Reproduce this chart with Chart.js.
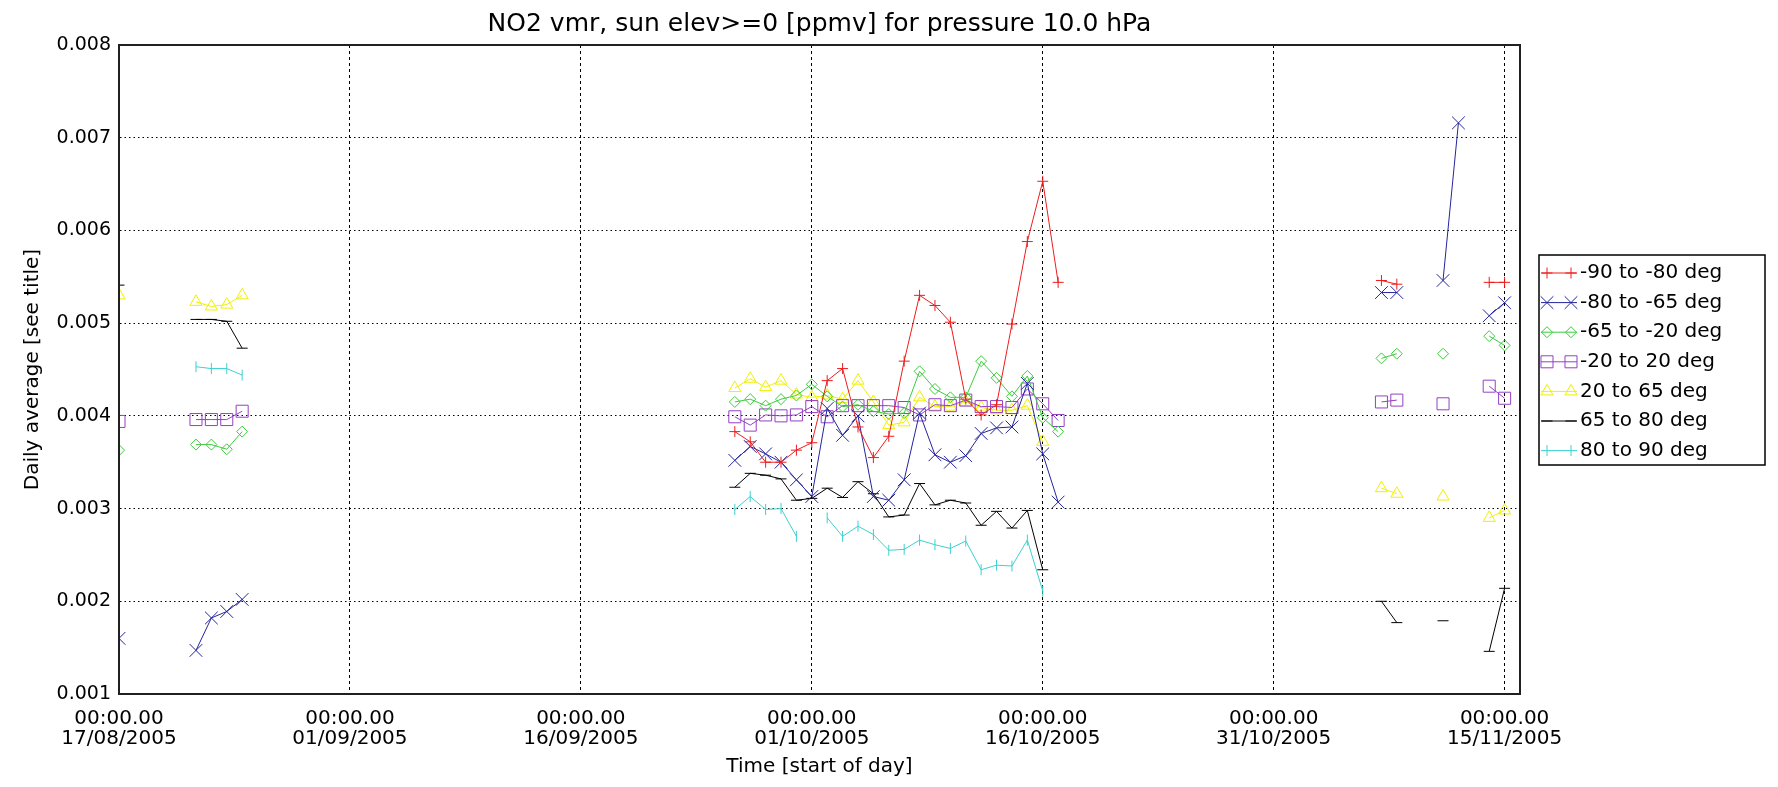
<!DOCTYPE html>
<html><head><meta charset="utf-8">
<script src="https://cdn.jsdelivr.net/npm/chart.js@4.4.1/dist/chart.umd.min.js"></script>
<style>html,body{margin:0;padding:0;background:#fff;}canvas{display:block;}</style>
</head><body>
<canvas id="c" width="1778" height="787"></canvas>
<script>
// Day offsets from 17/08/2005 00:00
const days = [0, 5, 6, 7, 8, 40, 41, 42, 43, 44, 45, 46, 47, 48, 49, 50, 51, 52, 53, 54, 55, 56, 57, 58, 59, 60, 61, 82, 83, 86, 87, 89, 90];

const seriesLabels = ['-90 to -80 deg', '-80 to -65 deg', '-65 to -20 deg', '-20 to 20 deg', '20 to 65 deg', '65 to 80 deg', '80 to 90 deg'];

const sSouthPole = [null, null, null, null, null,
  0.00383, 0.00372, 0.00350, 0.00350, 0.00363, 0.00371, 0.00438, 0.00451, 0.00388, 0.00355, 0.00378,
  0.00459, 0.00530, 0.00519, 0.00501, 0.00418, 0.00401, 0.00412, 0.00499, 0.00588, 0.00653, 0.00544,
  0.00546, 0.00542, null, null, 0.00544, 0.00544];
const sSouthHigh = [0.00160, 0.00147, 0.00182, 0.00189, 0.00202,
  0.00352, 0.00367, 0.00359, 0.00350, 0.00331, 0.00313, 0.00408, 0.00379, 0.00400, 0.00313, 0.00309,
  0.00331, 0.00403, 0.00358, 0.00350, 0.00357, 0.00381, 0.00387, 0.00388, 0.00435, 0.00359, 0.00307,
  0.00533, 0.00533, 0.00546, 0.00716, 0.00508, 0.00522];
const sSouthMid = [0.00363, 0.00369, 0.00369, 0.00364, 0.00383,
  0.00415, 0.00418, 0.00411, 0.00418, 0.00422, 0.00434, 0.00421, 0.00410, 0.00412, 0.00405, 0.00402,
  0.00403, 0.00448, 0.00429, 0.00420, 0.00420, 0.00459, 0.00441, 0.00421, 0.00443, 0.00398, 0.00383,
  0.00462, 0.00467, 0.00467, null, 0.00486, 0.00476];
const sTropics = [0.00394, 0.00396, 0.00396, 0.00396, 0.00405,
  0.00399, 0.00390, 0.00401, 0.00400, 0.00401, 0.00410, 0.00399, 0.00411, 0.00411, 0.00411, 0.00411,
  0.00409, 0.00401, 0.00412, 0.00411, 0.00417, 0.00410, 0.00410, 0.00409, 0.00429, 0.00413, 0.00395,
  0.00415, 0.00417, 0.00413, null, 0.00432, 0.00419];
const sNorthMid = [0.00530, 0.00523, 0.00518, 0.00520, 0.00530,
  0.00430, 0.00440, 0.00431, 0.00438, 0.00423, 0.00420, 0.00422, 0.00418, 0.00438, 0.00415, 0.00390,
  0.00393, 0.00420, 0.00410, 0.00410, 0.00415, 0.00409, 0.00406, 0.00406, 0.00411, 0.00372, null,
  0.00322, 0.00316, 0.00313, null, 0.00290, 0.00298];
const sNorthHigh = [0.00541, 0.00504, 0.00504, 0.00502, 0.00473,
  0.00323, 0.00338, 0.00336, 0.00332, 0.00309, 0.00311, 0.00322, 0.00312, 0.00329, 0.00316, 0.00291,
  0.00293, 0.00327, 0.00304, 0.00309, 0.00306, 0.00282, 0.00297, 0.00279, 0.00298, 0.00234, null,
  0.00200, 0.00177, 0.00179, null, 0.00146, 0.00214];
const sNorthPole = [0.00485, 0.00453, 0.00451, 0.00451, 0.00444,
  0.00299, 0.00313, 0.00299, 0.00300, 0.00270, null, 0.00290, 0.00270, 0.00281, 0.00272, 0.00255,
  0.00256, 0.00266, 0.00261, 0.00257, 0.00265, 0.00234, 0.00239, 0.00238, 0.00266, 0.00211, null,
  null, null, null, null, null, null];

const xTickDays = [0, 15, 30, 45, 60, 75, 90];
const xTickTimes = ['00:00.00', '00:00.00', '00:00.00', '00:00.00', '00:00.00', '00:00.00', '00:00.00'];
const xTickDates = ['17/08/2005', '01/09/2005', '16/09/2005', '01/10/2005', '16/10/2005', '31/10/2005', '15/11/2005'];
const yTickValues = [0.001, 0.002, 0.003, 0.004, 0.005, 0.006, 0.007, 0.008];
const yTickLabels = ['0.001', '0.002', '0.003', '0.004', '0.005', '0.006', '0.007', '0.008'];

const FONT = 'DejaVu Sans';
const TRANSPARENT = 'rgba(0,0,0,0)';

function mk(label, values, color, style, radius, rotation) {
  return {
    label: label,
    data: values.map((v, i) => ({x: days[i], y: v})),
    borderColor: color,
    backgroundColor: TRANSPARENT,
    borderWidth: 1,
    pointStyle: style,
    pointRadius: radius,
    pointHoverRadius: radius,
    pointRotation: rotation || 0,
    pointBorderColor: color,
    pointBackgroundColor: TRANSPARENT,
    pointBorderWidth: 1,
    tension: 0,
    fill: false,
    spanGaps: false,
    segment: {
      borderColor: c => (c.p1.parsed.x - c.p0.parsed.x > 1 ? TRANSPARENT : undefined)
    }
  };
}

const datasets = [
  mk(seriesLabels[0], sSouthPole, '#ee1c1c', 'cross', 5.5),
  mk(seriesLabels[1], sSouthHigh, '#24249c', 'crossRot', 9),
  mk(seriesLabels[2], sSouthMid, '#3ccc3c', 'rectRot', 5.5),
  mk(seriesLabels[3], sTropics, '#9440c4', 'rect', 8.5),
  mk(seriesLabels[4], sNorthMid, '#f0f000', 'triangle', 7),
  mk(seriesLabels[5], sNorthHigh, '#000000', 'line', 5.5),
  mk(seriesLabels[6], sNorthPole, '#3cd0d0', 'line', 5.5, 90)
];

const framePlugin = {
  id: 'frame',
  afterDatasetsDraw(chart) {
    const a = chart.chartArea, ctx = chart.ctx;
    ctx.save();
    ctx.strokeStyle = '#202020';
    ctx.lineWidth = 2;
    ctx.strokeRect(a.left, a.top, a.right - a.left, a.bottom - a.top);
    ctx.restore();
  }
};

function marker(ctx, ds, x, y) {
  const opts = {pointStyle: ds.pointStyle, radius: ds.pointRadius, rotation: ds.pointRotation || 0, borderWidth: 1};
  ctx.fillStyle = TRANSPARENT;
  ctx.strokeStyle = ds.borderColor;
  ctx.lineWidth = 1;
  if (Chart.helpers && Chart.helpers.drawPoint) {
    Chart.helpers.drawPoint(ctx, opts, x, y);
  }
}

const legendPlugin = {
  id: 'idlLegend',
  afterDraw(chart) {
    const ctx = chart.ctx;
    const bx = chart.chartArea.right + 19, by = 255, bw = 226, bh = 210;
    ctx.save();
    ctx.fillStyle = '#fff';
    ctx.fillRect(bx, by, bw, bh);
    ctx.strokeStyle = '#000';
    ctx.lineWidth = 1.5;
    ctx.strokeRect(bx, by, bw, bh);
    chart.data.datasets.forEach((ds, i) => {
      const y = by + 18 + i * 29.6;
      const x0 = bx + 2, x1 = bx + 38;
      ctx.strokeStyle = ds.borderColor;
      ctx.lineWidth = 1;
      ctx.beginPath();
      ctx.moveTo(x0, y);
      ctx.lineTo(x1, y);
      ctx.stroke();
      marker(ctx, ds, x0 + 6, y);
      marker(ctx, ds, x1 - 6, y);
      ctx.fillStyle = '#000';
      ctx.font = '20px "' + FONT + '"';
      ctx.textBaseline = 'middle';
      ctx.textAlign = 'left';
      ctx.fillText(ds.label, x1 + 3, y);
    });
    ctx.restore();
  }
};

new Chart(document.getElementById('c'), {
  type: 'line',
  data: {datasets: datasets},
  options: {
    responsive: false,
    animation: false,
    devicePixelRatio: 1,
    layout: {padding: {left: 0, right: 258, top: 0, bottom: 0}},
    plugins: {
      legend: {display: false},
      tooltip: {enabled: false},
      title: {
        display: true,
        fullSize: false,
        text: 'NO2 vmr, sun elev>=0 [ppmv] for pressure 10.0 hPa',
        color: '#000',
        font: {family: FONT, size: 25, weight: 'normal', lineHeight: 1.2},
        padding: {top: 9, bottom: 6}
      }
    },
    scales: {
      x: {
        type: 'linear',
        min: 0,
        max: 91,
        afterBuildTicks: s => { s.ticks = xTickDays.map(v => ({value: v})); },
        afterFit: s => { s.height = 93; },
        grid: {color: '#000', lineWidth: 1, drawTicks: false},
        border: {display: true, color: '#202020', width: 2, dash: [3, 3]},
        ticks: {
          autoSkip: false, maxRotation: 0, minRotation: 0, padding: 15, color: '#000',
          font: {family: FONT, size: 20, lineHeight: 1.0},
          callback: (v, i) => [xTickTimes[i], xTickDates[i]]
        },
        title: {
          display: true, text: 'Time [start of day]', color: '#000',
          font: {family: FONT, size: 20, lineHeight: 1.2},
          padding: {top: 0, bottom: 8}
        }
      },
      y: {
        type: 'linear',
        min: 0.001,
        max: 0.008,
        afterBuildTicks: s => { s.ticks = yTickValues.map(v => ({value: v})); },
        afterFit: s => { s.width = 119; },
        grid: {color: '#000', lineWidth: 1, drawTicks: false},
        border: {display: true, color: '#202020', width: 2, dash: [1.5, 3]},
        ticks: {
          padding: 8, color: '#000',
          font: {family: FONT, size: 19},
          callback: (v, i) => yTickLabels[i]
        },
        title: {
          display: true, text: 'Daily average [see title]', color: '#000',
          font: {family: FONT, size: 20, lineHeight: 1.2},
          padding: {top: 21, bottom: 0}
        }
      }
    }
  },
  plugins: [framePlugin, legendPlugin]
});
</script>
</body></html>
